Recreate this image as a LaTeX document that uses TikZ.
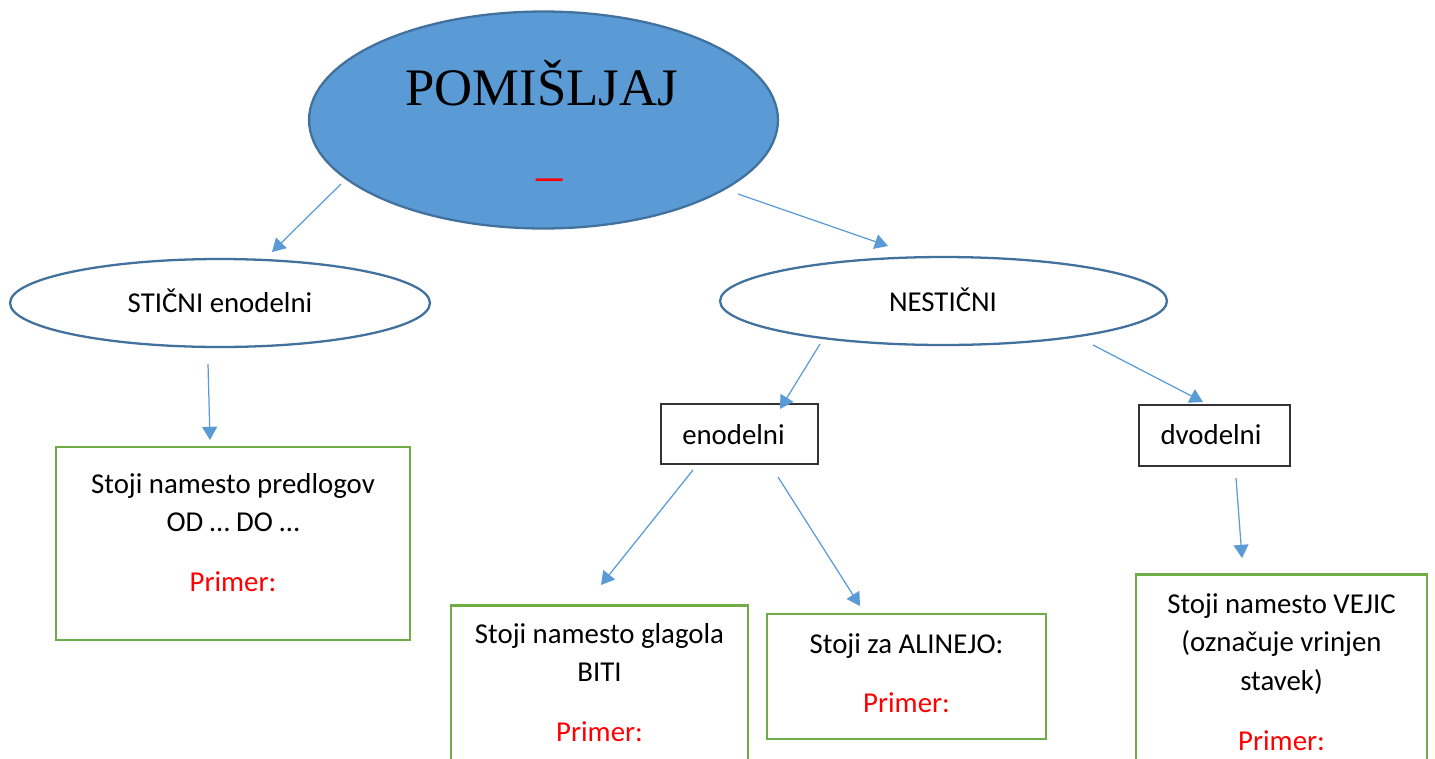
\documentclass[tikz,border=0pt]{standalone}
\usepackage{fontspec}
\setmainfont{Carlito}
\newfontfamily\timesfont{Liberation Serif}
\usetikzlibrary{shapes.geometric,arrows.meta}
\definecolor{OfficeBlue}{HTML}{5B9BD5}
\definecolor{DarkBlue}{HTML}{41719C}
\definecolor{OfficeGreen}{HTML}{70AD47}
\newcommand{\clr}{\textcolor{red}}
\tikzset{
    glavna/.style={ellipse, draw=DarkBlue, line width=1.3pt, fill=OfficeBlue, inner sep=0pt},
    vrsta/.style={ellipse, draw=DarkBlue, line width=1.3pt, fill=white, inner sep=0pt},
    okvir/.style={rectangle, draw=black!80, line width=0.8pt, inner sep=0pt},
    zeleni/.style={rectangle, draw=OfficeGreen, line width=1.5pt, inner sep=0pt},
    besedilo/.style={font=\fontsize{16.4}{22.1}\selectfont, inner sep=0pt, anchor=base},
    odstavek/.style={besedilo, text width=6cm, align=flush center},
    puscica/.style={draw=OfficeBlue, line width=0.7pt, -{Triangle[length=7.5pt,width=8.5pt]}}
}

\begin{document}
\begin{tikzpicture}[x=0.02cm, y=-0.02cm]
    \path[use as bounding box, clip] (0,0) rectangle (1435,758);

    \node[glavna, minimum width=9.38cm, minimum height=4.34cm] (pomisljaj) at (543.5,120) {};
    \node[anchor=base, inner sep=0pt, font=\timesfont\fontsize{30}{36}\selectfont] (naslov) at (541.5,105) {POMIŠLJAJ};
    \node[anchor=base, inner sep=0pt, text=red, font=\timesfont\fontsize{30}{36}\selectfont] (crtica) at (550,192) {–};

    \node[vrsta, minimum width=8.4cm, minimum height=1.76cm] (sticni) at (220,303) {};
    \node[besedilo] (sticnitxt) at (220,312) {STIČNI enodelni};
    \node[vrsta, minimum width=8.94cm, minimum height=1.76cm] (nesticni) at (943.5,301) {};
    \node[besedilo] (nesticnitxt) at (943,311) {NESTIČNI};

    \node[okvir, minimum width=3.14cm, minimum height=1.2cm] (enodelni) at (739.5,434) {};
    \node[besedilo] (enodelnitxt) at (733.5,444) {enodelni};
    \node[okvir, minimum width=3.02cm, minimum height=1.22cm] (dvodelni) at (1214.5,435.5) {};
    \node[besedilo] (dvodelnitxt) at (1211,444) {dvodelni};

    \node[zeleni, minimum width=7.08cm, minimum height=3.86cm] (predlog) at (233,543.5) {};
    \node[odstavek] (predlogtxt) at (233,493) {Stoji namesto predlogov\\OD … DO …\\[12pt]\clr{Primer:}};
    \node[zeleni, anchor=north, minimum width=5.94cm, minimum height=4.4cm] (glagol) at (599.5,604) {};
    \node[odstavek] (glagoltxt) at (599.5,643) {Stoji namesto glagola\\BITI\\[12pt]\clr{Primer:}};
    \node[zeleni, minimum width=5.58cm, minimum height=2.5cm] (alineja) at (906.5,676.5) {};
    \node[odstavek] (alinejatxt) at (906.5,653) {Stoji za ALINEJO:\\[12pt]\clr{Primer:}};
    \node[zeleni, anchor=north, minimum width=5.82cm, minimum height=4.4cm] (vejica) at (1281.5,573) {};
    \node[odstavek] (vejicatxt) at (1281.5,613) {Stoji namesto VEJIC\\(označuje vrinjen\\stavek)\\[12pt]\clr{Primer:}};

    \coordinate (z1) at (341,184);  \coordinate (k1) at (272,252);
    \coordinate (z2) at (738,194);  \coordinate (k2) at (888,246);
    \coordinate (z3) at (208,364);  \coordinate (k3) at (210,440);
    \coordinate (z4) at (820,344);  \coordinate (k4) at (780,409);
    \coordinate (z5) at (1093,345); \coordinate (k5) at (1203,402);
    \coordinate (z6) at (693,470);  \coordinate (k6) at (601,585);
    \coordinate (z7) at (778,477);  \coordinate (k7) at (860,606);
    \coordinate (z8) at (1236,478); \coordinate (k8) at (1242,558);
    \draw[puscica] (z1) -- (k1);
    \draw[puscica] (z2) -- (k2);
    \draw[puscica] (z3) -- (k3);
    \draw[puscica] (z4) -- (k4);
    \draw[puscica] (z5) -- (k5);
    \draw[puscica] (z6) -- (k6);
    \draw[puscica] (z7) -- (k7);
    \draw[puscica] (z8) -- (k8);
\end{tikzpicture}
\end{document}
